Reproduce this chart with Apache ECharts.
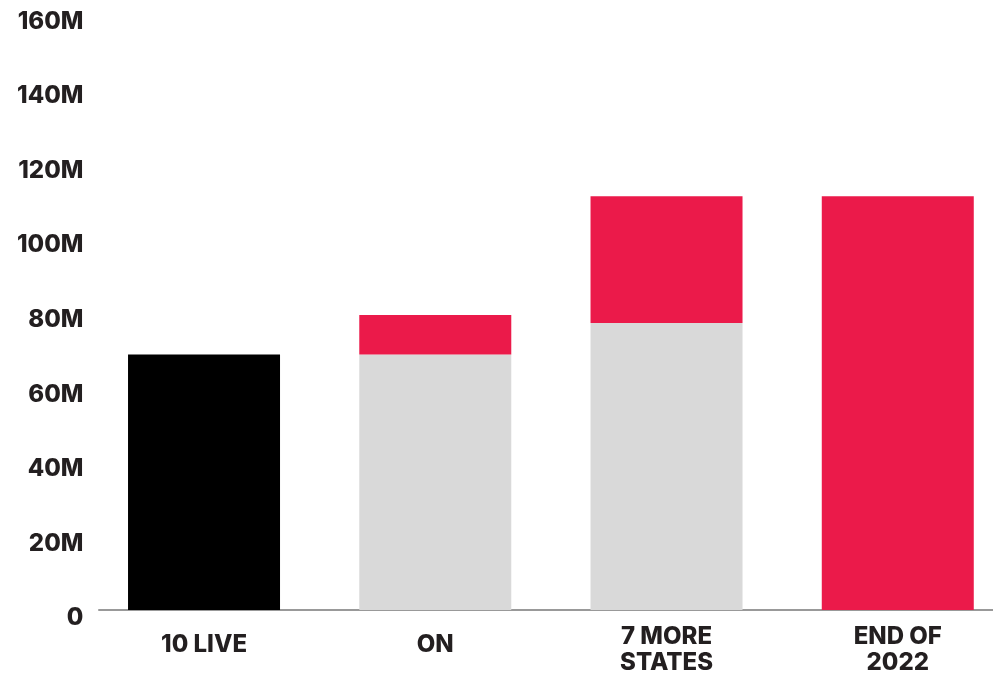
<!DOCTYPE html>
<html>
<head>
<meta charset="utf-8">
<script src="https://cdn.jsdelivr.net/npm/echarts@6/dist/echarts.min.js"></script>
<style>
html,body{margin:0;padding:0;background:#fff;}
#chart{width:993px;height:675px;}
</style>
</head>
<body>
<div id="chart"></div>
<script>
const categories = ['10 LIVE', 'ON', '7 MORE\nSTATES', 'END OF\n2022'];
const liveValues = [68.5, null, null, null];
const baseValues = [null, 68.5, 77, null];
const addedValues = [null, 10.6, 34, 111];
const yTicks = { min: 0, max: 160, interval: 20 };

const FONT = 'Inter';
const TEXT = '#231f20';
const chart = echarts.init(document.getElementById('chart'));
chart.setOption({
  animation: false,
  grid: [
    { left: 88.4, right: -20.4, top: 13.5, bottom: 65, outerBoundsMode: 'none', containLabel: false },
    { left: 99, right: 0, top: 13.5, bottom: 65, outerBoundsMode: 'none', containLabel: false }
  ],
  xAxis: [
    {
      type: 'category', data: categories, gridIndex: 0,
      axisLine: { show: false }, axisTick: { show: false },
      axisLabel: {
        margin: 40, verticalAlign: 'middle', interval: 0,
        formatter: v => v.indexOf('\n') >= 0
          ? v.split('\n').map(s => '{a|' + s + '}').join('\n')
          : '{a|' + v + '}\n{s| }',
        rich: {
          a: { color: TEXT, fontFamily: FONT, fontWeight: 800, fontSize: 24, lineHeight: 26 },
          s: { fontSize: 8, lineHeight: 10 }
        }
      }
    },
    {
      type: 'value', gridIndex: 1, min: 0, max: 1,
      axisLine: { show: true, lineStyle: { color: '#999999', width: 2 } },
      axisTick: { show: false }, axisLabel: { show: false }, splitLine: { show: false }
    }
  ],
  yAxis: [
    {
      type: 'value', gridIndex: 0, min: yTicks.min, max: yTicks.max, interval: yTicks.interval,
      axisLine: { show: false }, axisTick: { show: false }, splitLine: { show: false },
      axisLabel: {
        color: TEXT, fontFamily: FONT, fontWeight: 800, fontSize: 24, margin: 5,
        lineHeight: 16, verticalAlign: 'top',
        formatter: v => v === 0 ? '0' : v + 'M'
      }
    },
    { type: 'value', gridIndex: 1, show: false, min: 0, max: 1 }
  ],
  series: [
    { type: 'bar', name: 'live', stack: 's', data: liveValues, barWidth: 152, itemStyle: { color: '#000000' }, xAxisIndex: 0, yAxisIndex: 0 },
    { type: 'bar', name: 'base', stack: 's', data: baseValues, barWidth: 152, itemStyle: { color: '#d9d9d9' }, xAxisIndex: 0, yAxisIndex: 0 },
    { type: 'bar', name: 'added', stack: 's', data: addedValues, barWidth: 152, itemStyle: { color: '#eb1a4a' }, xAxisIndex: 0, yAxisIndex: 0 }
  ]
});
</script>
</body>
</html>
